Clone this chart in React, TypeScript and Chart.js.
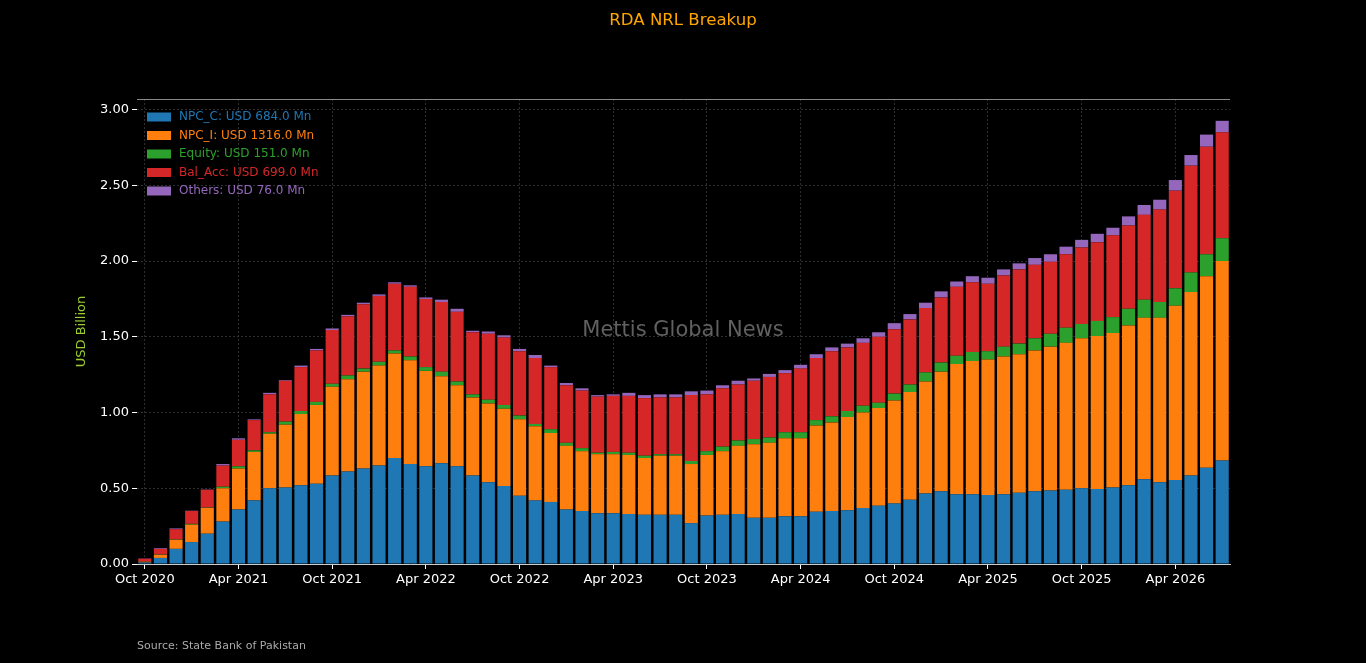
import React, { useEffect, useRef } from "react";
import { Chart, registerables } from "chart.js";
Chart.register(...registerables);

const startYear = 2020, startMonth = 9; // Oct 2020
const MONTHS = ["Jan","Feb","Mar","Apr","May","Jun","Jul","Aug","Sep","Oct","Nov","Dec"];
const labels: string[] = Array.from({ length: 70 }, (_, i) => {
  const m = (startMonth + i) % 12, y = startYear + Math.floor((startMonth + i) / 12);
  return `${MONTHS[m]} ${y}`;
});

// Cumulative top of each stacked segment (USD Billion)
const topNpcC = [0.01,0.04,0.10,0.145,0.20,0.28,0.36,0.42,0.50,0.505,0.52,0.53,0.585,0.61,0.63,0.65,0.70,0.66,0.645,0.665,0.645,0.585,0.54,0.515,0.45,0.42,0.41,0.36,0.35,0.335,0.335,0.33,0.325,0.325,0.325,0.27,0.32,0.325,0.33,0.305,0.305,0.315,0.315,0.345,0.35,0.355,0.37,0.385,0.40,0.425,0.465,0.48,0.46,0.46,0.455,0.46,0.47,0.48,0.485,0.49,0.50,0.495,0.505,0.52,0.56,0.54,0.555,0.585,0.635,0.684];
const topNpcI = [0.015,0.06,0.16,0.26,0.37,0.50,0.63,0.74,0.86,0.92,0.99,1.05,1.17,1.22,1.27,1.31,1.39,1.345,1.275,1.24,1.18,1.10,1.06,1.025,0.955,0.91,0.865,0.78,0.745,0.725,0.725,0.72,0.70,0.715,0.715,0.66,0.72,0.745,0.78,0.79,0.80,0.83,0.83,0.915,0.935,0.97,1.00,1.03,1.08,1.135,1.205,1.27,1.32,1.34,1.35,1.37,1.385,1.41,1.435,1.46,1.49,1.505,1.525,1.575,1.625,1.625,1.705,1.795,1.90,2.00];
const topEquity = [0.016,0.062,0.162,0.265,0.372,0.51,0.645,0.75,0.87,0.94,1.01,1.07,1.19,1.245,1.29,1.335,1.41,1.37,1.30,1.27,1.205,1.12,1.085,1.05,0.98,0.925,0.89,0.80,0.765,0.735,0.74,0.735,0.715,0.725,0.725,0.68,0.745,0.775,0.815,0.825,0.835,0.87,0.87,0.95,0.975,1.01,1.045,1.065,1.125,1.185,1.265,1.33,1.375,1.40,1.405,1.435,1.455,1.49,1.52,1.56,1.585,1.605,1.63,1.685,1.745,1.73,1.82,1.925,2.045,2.151];
const topBalAcc = [0.035,0.10,0.23,0.35,0.49,0.65,0.82,0.95,1.12,1.21,1.30,1.41,1.545,1.635,1.715,1.77,1.85,1.83,1.75,1.73,1.665,1.53,1.52,1.495,1.405,1.36,1.30,1.18,1.145,1.105,1.11,1.11,1.095,1.10,1.10,1.115,1.12,1.16,1.185,1.21,1.235,1.26,1.29,1.36,1.405,1.43,1.46,1.50,1.55,1.615,1.69,1.76,1.83,1.86,1.85,1.905,1.945,1.975,1.995,2.045,2.09,2.125,2.17,2.235,2.305,2.34,2.465,2.63,2.755,2.85];
const topOthers = [0.037,0.105,0.235,0.352,0.492,0.66,0.83,0.955,1.13,1.215,1.31,1.42,1.555,1.645,1.725,1.78,1.86,1.84,1.76,1.745,1.685,1.54,1.535,1.51,1.42,1.38,1.31,1.195,1.16,1.115,1.12,1.13,1.115,1.12,1.12,1.14,1.145,1.18,1.21,1.225,1.255,1.28,1.315,1.385,1.43,1.455,1.49,1.53,1.59,1.65,1.725,1.80,1.865,1.90,1.89,1.945,1.985,2.02,2.045,2.095,2.14,2.18,2.22,2.295,2.37,2.405,2.535,2.70,2.835,2.926];

const seriesNames = ["NPC_C: USD 684.0 Mn", "NPC_I: USD 1316.0 Mn", "Equity: USD 151.0 Mn", "Bal_Acc: USD 699.0 Mn", "Others: USD 76.0 Mn"];
const colors = ["#1f77b4", "#ff7f0e", "#2ca02c", "#d62728", "#9467bd"];

export default function App() {
  const ref = useRef<HTMLCanvasElement>(null);
  useEffect(() => {
    const tops = [topNpcC, topNpcI, topEquity, topBalAcc, topOthers];
    const datasets = tops.map((t, k) => ({
      label: seriesNames[k],
      data: t.map((v, i) => +(v - (k ? tops[k - 1][i] : 0)).toFixed(4)),
      backgroundColor: colors[k],
      borderWidth: 0,
      barPercentage: 0.84,
      categoryPercentage: 1,
      stack: "s",
    }));
    const deco = {
      id: "deco",
      beforeDraw(c: any) {
        const ctx = c.ctx;
        ctx.save();
        ctx.fillStyle = "#000";
        ctx.fillRect(0, 0, c.width, c.height);
        ctx.restore();
      },
      afterDraw(c: any) {
        const ctx = c.ctx, a = c.chartArea;
        ctx.save();
        ctx.strokeStyle = "#888";
        ctx.lineWidth = 1;
        ctx.beginPath(); ctx.moveTo(a.left, a.top + 0.5); ctx.lineTo(a.right, a.top + 0.5); ctx.stroke();
        ctx.font = "16.6px 'DejaVu Sans'";
        ctx.fillStyle = "#ffa500"; ctx.textAlign = "center"; ctx.textBaseline = "middle";
        ctx.fillText("RDA NRL Breakup", 683, 21);
        ctx.font = "21px 'DejaVu Sans'"; ctx.fillStyle = "rgba(128,128,128,0.75)";
        ctx.fillText("Mettis Global News", 683, 331);
        ctx.font = "11px 'DejaVu Sans'"; ctx.fillStyle = "#aaaaaa"; ctx.textAlign = "left";
        ctx.fillText("Source: State Bank of Pakistan", 137, 646);
        ctx.font = "12px 'DejaVu Sans'";
        seriesNames.forEach((n, k) => {
          const y = 117 + k * 18.5;
          ctx.fillStyle = colors[k];
          ctx.fillRect(147, y - 4.5, 24, 9);
          ctx.fillText(n, 179, y);
        });
        ctx.restore();
      },
    };
    const ch = new Chart(ref.current!, {
      type: "bar",
      data: { labels, datasets },
      plugins: [deco],
      options: {
        animation: false,
        responsive: false,
        layout: { padding: { left: 70, right: 136, top: 99, bottom: 0 } },
        plugins: { legend: { display: false }, tooltip: { enabled: false } },
        scales: {
          x: {
            stacked: true,
            afterFit: (s: any) => { s.height = 99; },
            border: { color: "#cccccc", dash: [2, 2] },
            grid: {
              color: (ctx: any) => (ctx.index % 6 === 0 ? "#2e2e2e" : "transparent"),
              tickColor: (ctx: any) => (ctx.index % 6 === 0 ? "#ffffff" : "transparent"),
              tickLength: 5,
              offset: false,
            } as any,
            ticks: {
              autoSkip: false, maxRotation: 0, color: "#ffffff", font: { size: 13, family: "DejaVu Sans" },
              callback: (_v: any, i: number) => (i % 6 === 0 ? labels[i] : ""),
            },
          },
          y: {
            stacked: true, min: 0, max: 3.07,
            afterFit: (s: any) => { s.width = 67; },
            border: { display: false, dash: [2, 2] },
            grid: { color: "#2e2e2e", tickColor: "#ffffff", tickLength: 5 },
            afterBuildTicks: (s: any) => { s.ticks = [0, 0.5, 1, 1.5, 2, 2.5, 3].map((v) => ({ value: v })); },
            ticks: { color: "#ffffff", font: { size: 13, family: "DejaVu Sans" }, callback: (v: any) => Number(v).toFixed(2) },
            title: { display: true, text: "USD Billion", color: "#9acd32", font: { size: 13, family: "DejaVu Sans" }, padding: 4 },
          },
        },
      },
    });
    return () => ch.destroy();
  }, []);
  return (
    <div style={{ position: "fixed", left: 0, top: 0, width: 1366, height: 663, background: "#000" }}>
      <canvas ref={ref} width={1366} height={663} style={{ width: 1366, height: 663 }} />
    </div>
  );
}
